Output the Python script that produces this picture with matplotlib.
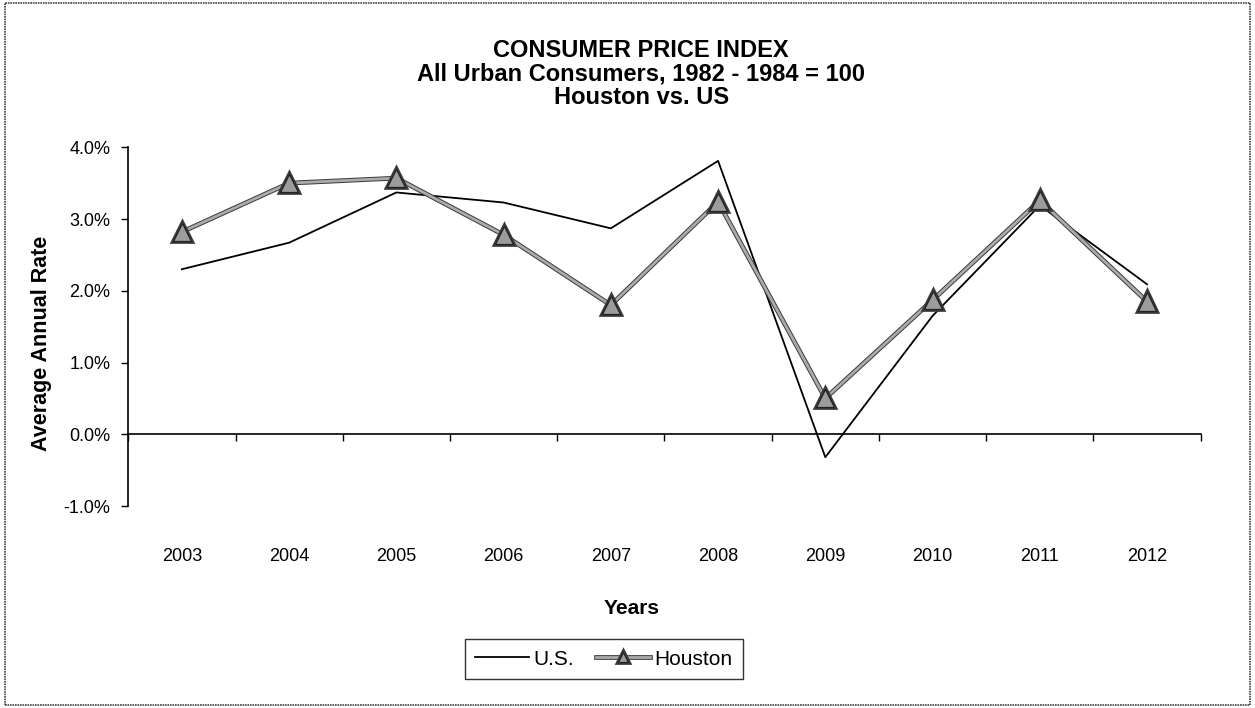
import matplotlib
matplotlib.use("Agg")
import matplotlib.pyplot as plt
import matplotlib.patheffects as pe
from matplotlib.patches import Rectangle
from matplotlib.ticker import FuncFormatter, FixedLocator

years = ["2003", "2004", "2005", "2006", "2007", "2008", "2009", "2010", "2011", "2012"]
us = [2.30, 2.67, 3.37, 3.23, 2.87, 3.81, -0.32, 1.65, 3.19, 2.09]
houston = [2.82, 3.50, 3.57, 2.78, 1.80, 3.24, 0.50, 1.87, 3.26, 1.85]
yticks = [-1.0, 0.0, 1.0, 2.0, 3.0, 4.0]

plt.rcParams['font.family'] = ['Liberation Sans', 'DejaVu Sans']

fig = plt.figure(figsize=(12.55, 7.08), dpi=100)
ax = fig.add_axes([0.1022, 0.2853, 0.8545, 0.5067])

x = list(range(len(years)))
ax.plot(x, us, color='black', lw=1.3, label='U.S.')
ax.plot(x, houston, color='#ababab', lw=2.0, marker='^', markersize=13,
        markerfacecolor='#9c9c9c', markeredgecolor='#222222', markeredgewidth=0.9,
        path_effects=[pe.Stroke(linewidth=3.4, foreground='#3a3a3a'), pe.Normal()],
        label='Houston')

ax.set_xlim(-0.5, len(years) - 0.5)
ax.set_ylim(-1.0, 4.0)

for s in ['top', 'right']:
    ax.spines[s].set_visible(False)
ax.spines['bottom'].set_position(('data', 0))
ax.spines['bottom'].set_linewidth(1.2)
ax.spines['left'].set_linewidth(1.2)

ax.set_yticks(yticks)
ax.yaxis.set_major_formatter(FuncFormatter(lambda v, p: f"{v:.1f}%"))
ax.tick_params(axis='y', direction='out', length=5, width=1, labelsize=13, pad=8)

ax.set_xticks(x)
ax.set_xticklabels(years)
ax.tick_params(axis='x', which='major', length=0, labelsize=13, pad=82)
ax.xaxis.set_minor_locator(FixedLocator([i - 0.5 for i in range(len(years) + 1)]))
ax.tick_params(axis='x', which='minor', direction='out', length=5, width=1)

ax.set_ylabel('Average Annual Rate', fontsize=15.5, fontweight='bold')
ax.yaxis.set_label_coords(-0.0712, 0.453)

tx = 0.511
fig.text(tx, 0.929, 'CONSUMER PRICE INDEX', ha='center', va='center', fontsize=17, fontweight='bold')
fig.text(tx, 0.895, 'All Urban Consumers, 1982 - 1984 = 100', ha='center', va='center', fontsize=17, fontweight='bold')
fig.text(tx, 0.862, 'Houston vs. US', ha='center', va='center', fontsize=17, fontweight='bold')

fig.text(0.5036, 0.140, 'Years', ha='center', va='center', fontsize=15, fontweight='bold')

leg = fig.legend(loc='center', bbox_to_anchor=(0.481, 0.069), ncol=2, fontsize=15,
                 frameon=True, fancybox=False, handlelength=2.6, handletextpad=0.2,
                 columnspacing=1.05, borderpad=0.5)
leg.get_frame().set_edgecolor('black')
leg.get_frame().set_linewidth(1.0)
for h in leg.legend_handles:
    h.set_markersize(7)

fig.patches.append(Rectangle((0.004, 0.004), 0.992, 0.992, transform=fig.transFigure,
                             fill=False, edgecolor='#444444', lw=1.2, ls=(0, (1, 0.5))))

fig.savefig('out.png', dpi=100)
